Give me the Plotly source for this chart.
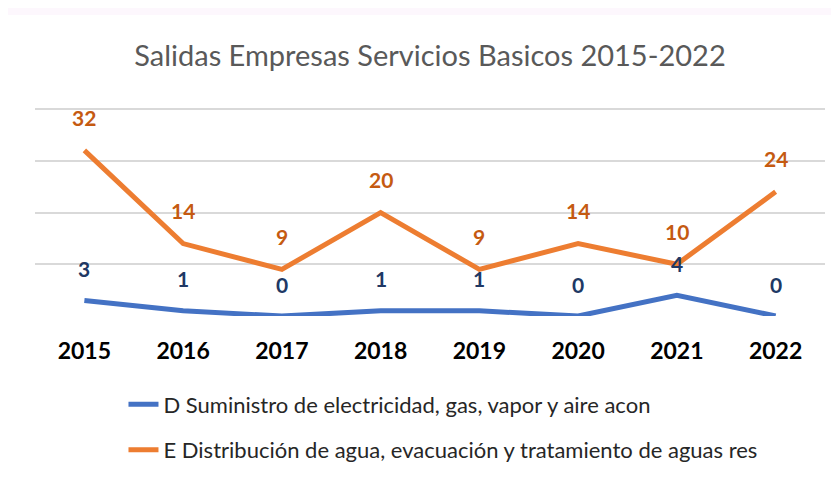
import plotly.graph_objects as go

years = ["2015", "2016", "2017", "2018", "2019", "2020", "2021", "2022"]
serie_d = [3, 1, 0, 1, 1, 0, 4, 0]
serie_e = [32, 14, 9, 20, 9, 14, 10, 24]
name_d = "D Suministro de electricidad, gas, vapor y aire acon"
name_e = "E Distribución de agua, evacuación y tratamiento de aguas res"
title = "Salidas Empresas Servicios Basicos 2015-2022"

blue = "#4472C4"
orange = "#ED7D31"
font = "Lato"

fig = go.Figure()
fig.add_trace(go.Scatter(x=years, y=serie_d, mode="lines", name=name_d,
                         line=dict(color=blue, width=5), legendgroup="d"))
fig.add_trace(go.Scatter(x=years, y=serie_e, mode="lines", name=name_e,
                         line=dict(color=orange, width=5), legendgroup="e"))

annotations = []
for i, v in enumerate(serie_d):
    annotations.append(dict(x=i, y=v, xref="x", yref="y", text=str(v), showarrow=False, yshift=32,
                            font=dict(family=font, size=21, color="#203864", weight="bold")))
for i, v in enumerate(serie_e):
    annotations.append(dict(x=i, y=v, xref="x", yref="y", text=str(v), showarrow=False, yshift=33,
                            font=dict(family=font, size=21, color="#C55A11", weight="bold")))

fig.update_layout(
    width=831, height=475,
    margin=dict(l=27, r=14, t=100, b=167, autoexpand=False),
    paper_bgcolor="#FDF7FD",
    plot_bgcolor="white",
    shapes=[dict(type="rect", xref="paper", yref="paper", x0=-0.05, x1=1.1,
                 y0=-1.0, y1=1.447, fillcolor="white", line=dict(width=0), layer="below")],
    title=dict(text=title, x=0.5, xanchor="center", xref="paper", y=0.899, yanchor="middle",
               font=dict(family=font, size=29, color="#595959")),
    showlegend=True,
    legend=dict(orientation="v", x=0.112, xanchor="left", y=-0.324, yanchor="top",
                font=dict(family=font, size=22, color="#262626"),
                tracegroupgap=14, bgcolor="rgba(0,0,0,0)"),
    annotations=annotations,
    xaxis=dict(type="category", range=[-0.5, 7.5], showgrid=False, showline=False,
               zeroline=False, ticks="", ticklabelstandoff=19, automargin=False,
               tickfont=dict(family=font, size=23, color="black", weight="bold")),
    yaxis=dict(range=[0, 40.2], tickvals=[0, 10, 20, 30, 40], showgrid=True, gridcolor="#D9D9D9",
               gridwidth=2, showticklabels=False, zeroline=False, showline=False, automargin=False),
)

fig.write_html("out.html")
